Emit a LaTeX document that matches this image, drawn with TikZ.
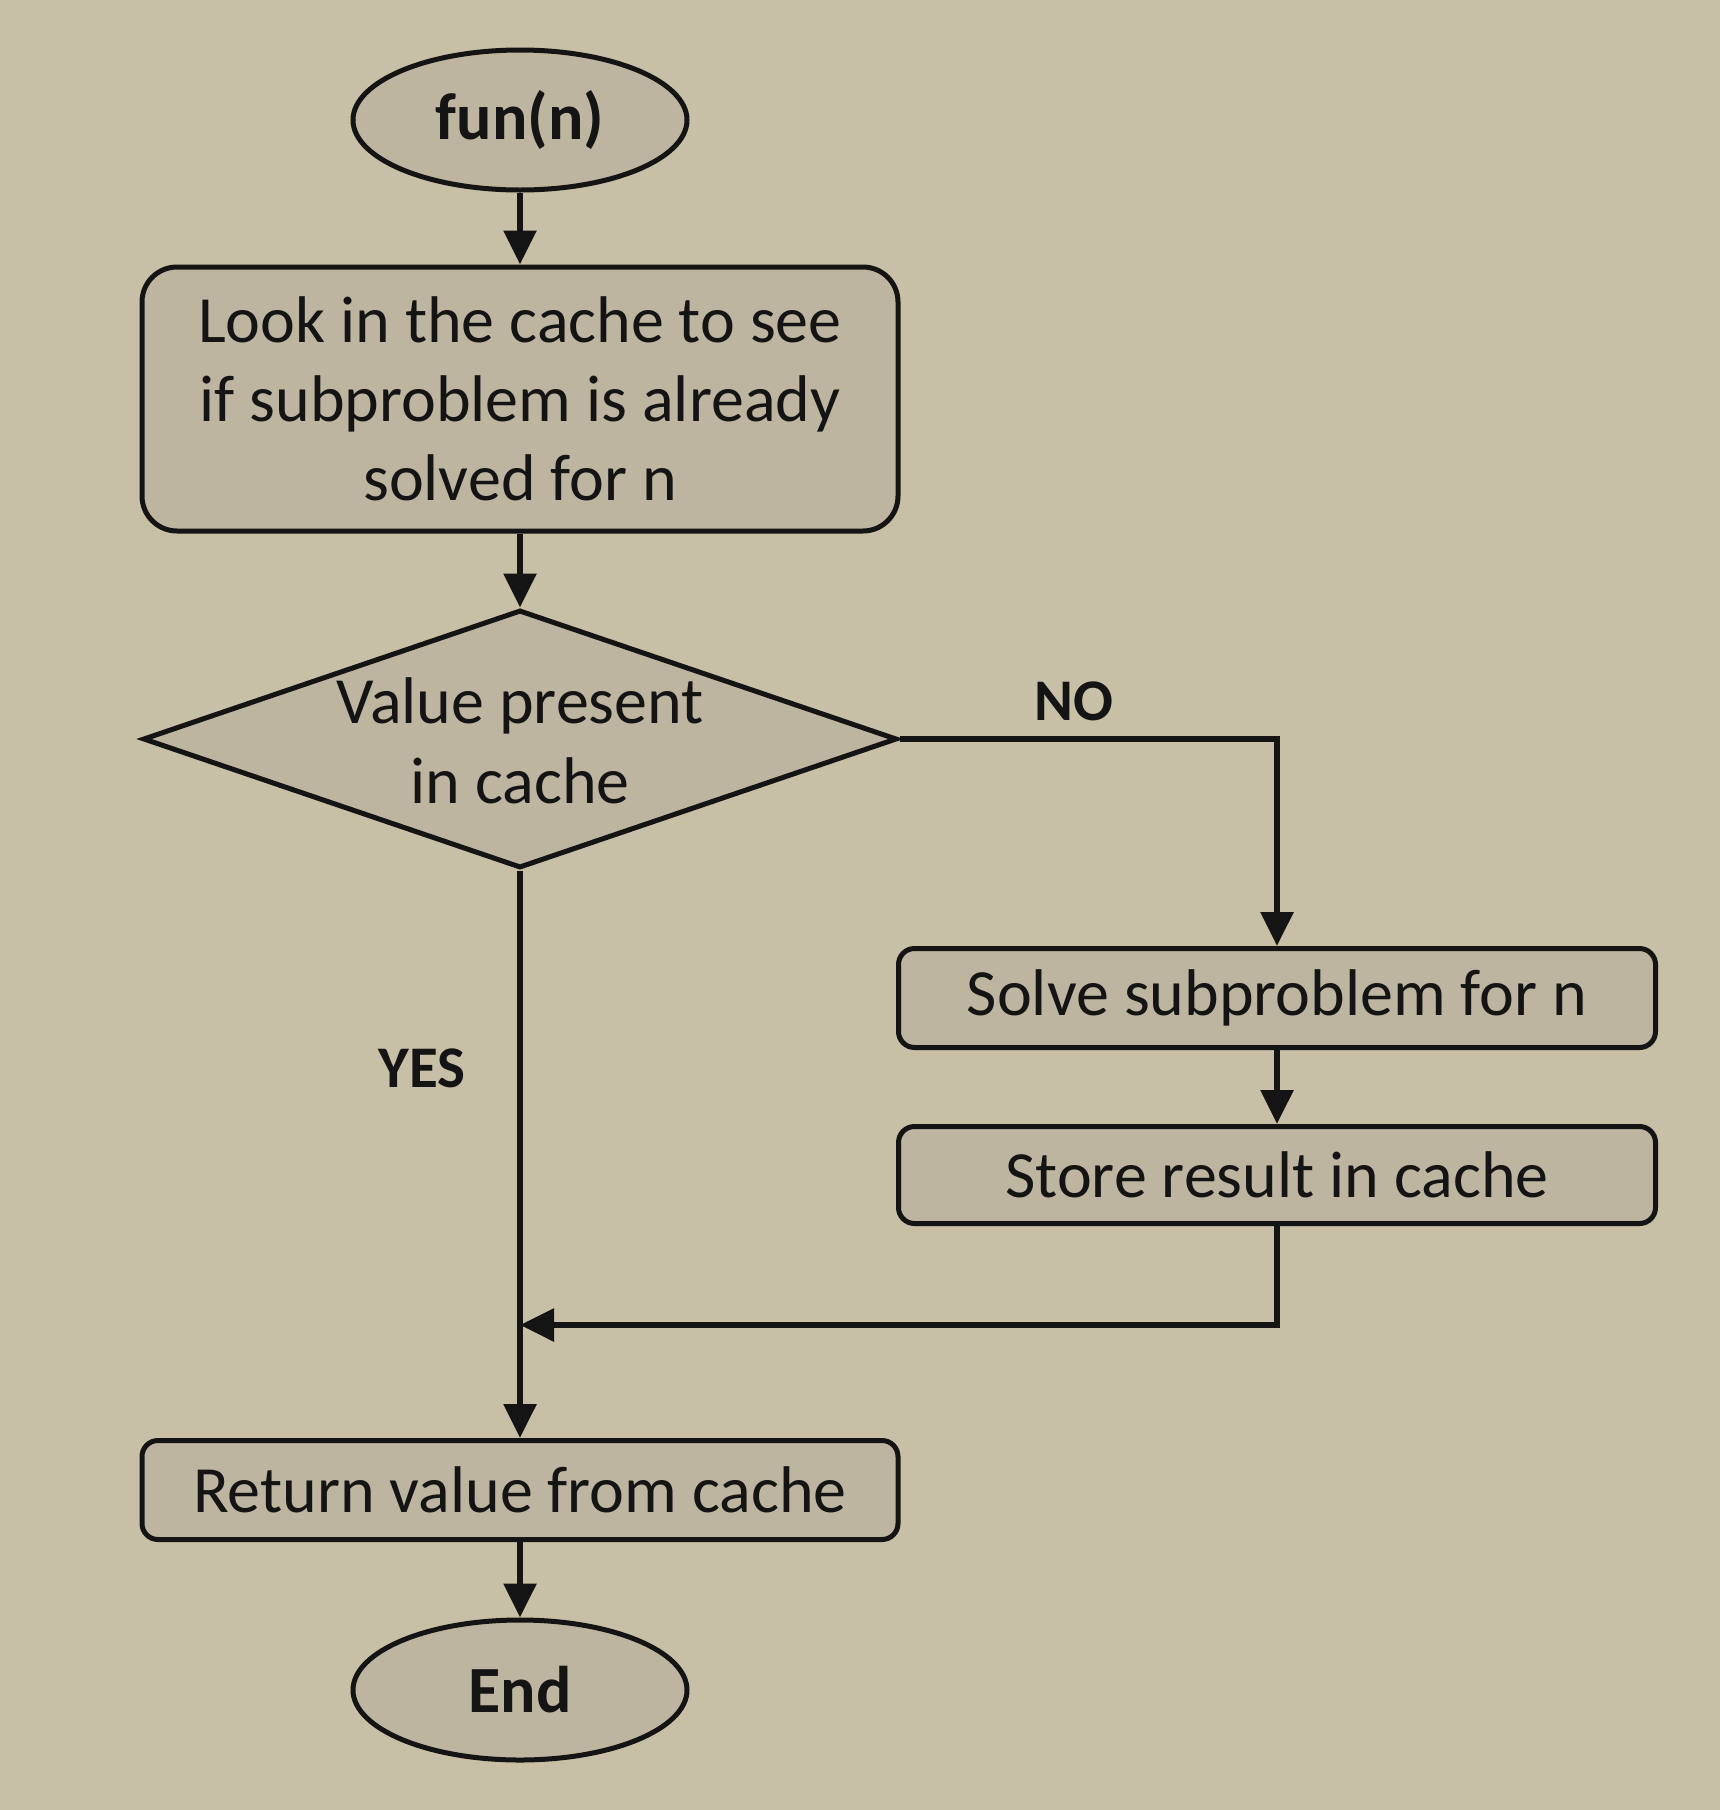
\documentclass[tikz,border=0pt]{standalone}
\usepackage{fontspec}
\setmainfont{Carlito}
\usetikzlibrary{shapes.geometric,arrows.meta}
\definecolor{bgc}{RGB}{200,191,167}
\definecolor{fillc}{RGB}{189,181,160}
\definecolor{inkc}{RGB}{20,20,20}
\tikzset{
  base/.style={draw=inkc, fill=fillc, line width=5pt, text=inkc, inner sep=0pt},
  roundbox/.style={base, rectangle, rounded corners=16pt, font=\fontsize{66}{79}\selectfont},
  term/.style={base, ellipse, font=\bfseries\fontsize{66}{70}\selectfont},
  conn/.style={draw=inkc, line width=6pt, -{Triangle[length=34pt,width=32pt]}},
  lbl/.style={text=inkc, font=\bfseries\fontsize{59}{60}\selectfont, inner sep=0pt}
}
\begin{document}
\begin{tikzpicture}[x=1pt,y=-1pt]
\fill[bgc] (0,0) rectangle (1720,1810);
\useasboundingbox (0,0) rectangle (1720,1810);

\node[term, minimum width=334pt, minimum height=140pt] (start) at (520,120) {fun(n)};
\node[roundbox, rounded corners=35pt, minimum width=756pt, minimum height=264pt, align=center] (look) at (520,399) {Look in the cache to see\\if subproblem is already\\solved for n};
\node[base, diamond, aspect=2.92, minimum width=754pt, minimum height=258pt] (dec) at (520,739) {};
\node[font=\fontsize{66}{80}\selectfont, text=inkc, align=center, inner sep=0pt] (dectext) at (520,741) {Value present\\in cache};
\node[roundbox, minimum width=757pt, minimum height=99pt] (solve) at (1277,998) {\raisebox{-11pt}{Solve subproblem for n}};
\node[roundbox, minimum width=757pt, minimum height=97pt] (store) at (1277,1175) {\raisebox{-8pt}{Store result in cache}};
\node[roundbox, minimum width=756pt, minimum height=99pt] (ret) at (520,1490) {\raisebox{-4pt}{Return value from cache}};
\node[term, minimum width=334pt, minimum height=140pt] (end) at (520,1690) {End};

\node[lbl] (no) at (1074,701) {NO};
\node[lbl] (yes) at (422,1068) {YES};
\coordinate (merge) at (520,1325);

\draw[conn] (start) -- (look);
\draw[conn] (look) -- (dec);
\draw[conn] (dec.east) -| (solve.north);
\draw[conn] (solve) -- (store);
\draw[conn] (store.south) |- (merge);
\draw[conn] (dec.south) -- (ret.north);
\draw[conn] (ret) -- (end);
\end{tikzpicture}
\end{document}
